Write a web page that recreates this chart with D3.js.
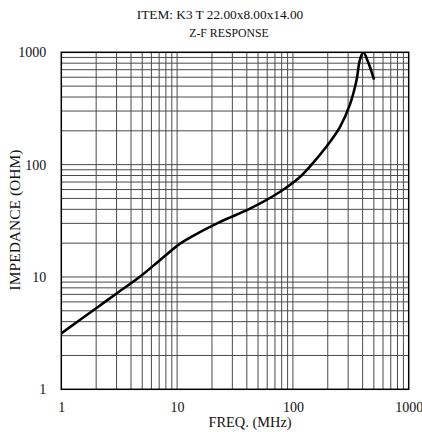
<!DOCTYPE html>
<html>
<head>
<meta charset="utf-8">
<script src="https://cdn.jsdelivr.net/npm/d3@7"></script>
<style>
  html, body { margin: 0; padding: 0; background: #fff; }
  svg { display: block; }
  svg text { font-family: "Liberation Serif", "Times New Roman", Times, serif; fill: #111; }
</style>
</head>
<body>
<svg id="chart" width="422" height="432"></svg>
<script>
// Impedance vs frequency for the K3 T 22.00x8.00x14.00 core
const freqMHz   = [1, 2, 3, 4.8, 7.1, 10.6, 12.9, 23.5, 42.6, 77, 115, 150, 189, 254, 310, 354, 378, 405, 446, 502];
const impedance = [3.15, 5.27, 7.13, 10.1, 14.1, 19.8, 22.4, 30.9, 40.6, 57.1, 77.6, 104, 139, 215, 340, 560, 849, 1000, 820, 571];

const xTicks = [1, 10, 100, 1000];
const yTicks = [1, 10, 100, 1000];
const titleText = "ITEM: K3 T 22.00x8.00x14.00";
const subtitleText = "Z-F RESPONSE";
const xTitle = "FREQ. (MHz)";
const yTitle = "IMPEDANCE (OHM)";

const svg = d3.select("#chart");
const plotL = 61.3, plotR = 408.7, plotT = 52.3, plotB = 389.3;

const x = d3.scaleLog().domain([1, 1000]).range([plotL, plotR]);
const y = d3.scaleLog().domain([1, 1000]).range([plotB, plotT]);

// grid values: 2..9 in each decade plus inner decades
const gridVals = [];
for (let d = 1; d < 1000; d *= 10) {
  for (let m = 1; m <= 9; m++) gridVals.push(d * m);
}
const inner = gridVals.filter(v => v > 1 && v < 1000);

const grid = svg.append("g").attr("stroke", "#4a4a4a").attr("stroke-width", 1);
grid.selectAll("line.v").data(inner).join("line")
  .attr("class", "v")
  .attr("x1", d => x(d)).attr("x2", d => x(d))
  .attr("y1", plotT).attr("y2", plotB);
grid.selectAll("line.h").data(inner).join("line")
  .attr("class", "h")
  .attr("y1", d => y(d)).attr("y2", d => y(d))
  .attr("x1", plotL).attr("x2", plotR);

// plot frame
svg.append("rect")
  .attr("x", plotL).attr("y", plotT)
  .attr("width", plotR - plotL).attr("height", plotB - plotT)
  .attr("fill", "none").attr("stroke", "#000").attr("stroke-width", 1.5);

// clip for the curve
svg.append("clipPath").attr("id", "plotClip")
  .append("rect").attr("x", plotL).attr("y", plotT)
  .attr("width", plotR - plotL).attr("height", plotB - plotT);

const pts = freqMHz.map((f, i) => [f, impedance[i]]);
const line = d3.line()
  .x(d => x(d[0])).y(d => y(d[1]))
  .curve(d3.curveCatmullRom.alpha(0.5));

svg.append("path")
  .datum(pts)
  .attr("clip-path", "url(#plotClip)")
  .attr("fill", "none")
  .attr("stroke", "#000")
  .attr("stroke-width", 2.6)
  .attr("stroke-linejoin", "round")
  .attr("d", line);

// axes (labels only; grid drawn separately)
const fmt = d => String(d);
const xAxis = svg.append("g")
  .attr("transform", `translate(0,${plotB})`)
  .call(d3.axisBottom(x).tickValues(xTicks).tickFormat(fmt).tickSize(0).tickPadding(13));
xAxis.attr("font-family", null).attr("font-size", null);
xAxis.select(".domain").remove();
xAxis.selectAll("text").attr("font-size", 14).attr("fill", "#111");

const yAxis = svg.append("g")
  .attr("transform", `translate(${plotL},0)`)
  .call(d3.axisLeft(y).tickValues(yTicks).tickFormat(fmt).tickSize(0).tickPadding(15));
yAxis.attr("font-family", null).attr("font-size", null);
yAxis.select(".domain").remove();
yAxis.selectAll("text").attr("font-size", 14).attr("fill", "#111");

// titles
svg.append("text")
  .attr("x", 220).attr("y", 18.5)
  .attr("text-anchor", "middle").attr("font-size", 13.3)
  .text(titleText);
svg.append("text")
  .attr("x", 229).attr("y", 37)
  .attr("text-anchor", "middle").attr("font-size", 11.8)
  .text(subtitleText);
svg.append("text")
  .attr("x", 250).attr("y", 427)
  .attr("text-anchor", "middle").attr("font-size", 14.4)
  .text(xTitle);
svg.append("text")
  .attr("transform", "translate(20,220) rotate(-90)")
  .attr("text-anchor", "middle").attr("font-size", 15.5)
  .text(yTitle);
</script>
</body>
</html>
